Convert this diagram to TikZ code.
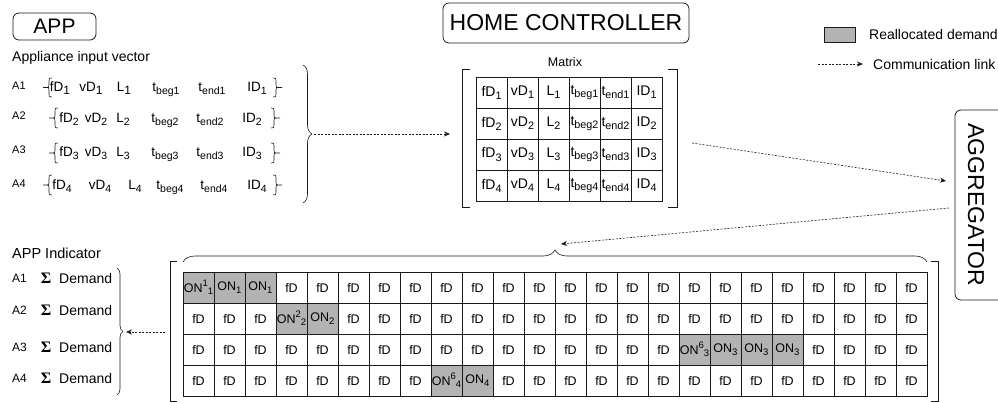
\documentclass[tikz,border=0pt]{standalone}
\usepackage{fontspec}
\setmainfont{Liberation Sans}
\newfontfamily\serifsym{Liberation Serif}
\usetikzlibrary{arrows.meta,decorations.pathreplacing}
\definecolor{realloc}{HTML}{B3B3B3}
\definecolor{ln}{HTML}{1A1A1A}
\newcommand\fsz[1]{\fontsize{#1}{#1}\selectfont}
\def\subsz{9.5}
\newcommand\sbs[1]{\raisebox{-0.42ex}{\fsz{\subsz}#1}}
\newcommand\sps[1]{\raisebox{0.8ex}{\fsz{\subsz}#1}}
\newcommand\lwr[1]{\raisebox{-0.3ex}{\fsz{12}#1}}
\newcommand\sig{{\serifsym\bfseries Σ}}
% small curly braces: body x, top y, bottom y
\newcommand\mylbr[3]{\draw[smb] ({#1+3},#2) .. controls (#1,#2) .. (#1,{#2+3}) -- (#1,{(#2+#3)/2-3}) .. controls (#1,{(#2+#3)/2}) .. ({#1-3},{(#2+#3)/2}) .. controls (#1,{(#2+#3)/2}) .. (#1,{(#2+#3)/2+3}) -- (#1,{#3-3}) .. controls (#1,#3) .. ({#1+3},#3) ({#1-3},{(#2+#3)/2}) -- ({#1-6},{(#2+#3)/2});}
\newcommand\myrbr[3]{\draw[smb] ({#1-3},#2) .. controls (#1,#2) .. (#1,{#2+3}) -- (#1,{(#2+#3)/2-3}) .. controls (#1,{(#2+#3)/2}) .. ({#1+3},{(#2+#3)/2}) .. controls (#1,{(#2+#3)/2}) .. (#1,{(#2+#3)/2+3}) -- (#1,{#3-3}) .. controls (#1,#3) .. ({#1-3},#3) ({#1+3},{(#2+#3)/2}) -- ({#1+6},{(#2+#3)/2});}
\begin{document}
\begin{tikzpicture}[x=1pt,y=-1pt,
  rbox/.style={draw=ln, rounded corners=6pt, line width=0.8pt},
  cell/.style={draw=ln, minimum width=31pt, minimum height=31pt, inner sep=0pt, line width=0.6pt, font=\fsz{12.5}\def\subsz{9.5}},
  mcell/.style={cell, font=\fsz{14}\def\subsz{10.8}},
  gcell/.style={cell, fill=realloc},
  lbl/.style={inner sep=0pt, anchor=west, font=\fsz{14}},
  alab/.style={inner sep=0pt, anchor=west, font=\fsz{11}},
  vec/.style={inner sep=0pt, anchor=base, font=\fsz{13.5}\def\subsz{10.5}},
  link/.style={draw=ln, line width=0.6pt, dash pattern=on 2pt off 1.5pt, -{Stealth[length=6pt,width=5pt]}},
  brc/.style={draw=ln, line width=0.6pt, decorate, decoration={brace, amplitude=#1}},
  brc/.default=6pt,
  smb/.style={draw=ln, line width=0.6pt},
  brk/.style={draw=ln, line width=1pt},
]
\useasboundingbox (0,0) rectangle (998,403);

% ---------- APP ----------
\node[rbox, minimum width=83pt, minimum height=27pt, inner sep=0pt, font=\fsz{21}] (app) at (54.5,26.5) {APP};
\node[lbl] (aiv) at (12,58) {Appliance input vector};

% row labels
\node[alab] (ra1) at (12,86) {A1};
\node[alab] (ra2) at (12,116) {A2};
\node[alab] (ra3) at (12,150) {A3};
\node[alab] (ra4) at (12,184) {A4};

% row 1
\node[vec] (v1a) at (60,92) {fD\lwr{1}};
\node[vec] (v1b) at (91,92) {vD\lwr{1}};
\node[vec] (v1c) at (124,92) {L\lwr{1}};
\node[vec] (v1d) at (166,92) {t\sbs{beg1}};
\node[vec] (v1e) at (212,92) {t\sbs{end1}};
\node[vec] (v1f) at (257,92) {ID\sbs{1}};
% row 2
\node[vec] (v2a) at (69,123) {fD\sbs{2}};
\node[vec] (v2b) at (96,123) {vD\sbs{2}};
\node[vec] (v2c) at (123,123) {L\sbs{2}};
\node[vec] (v2d) at (165,123) {t\sbs{beg2}};
\node[vec] (v2e) at (210,123) {t\sbs{end2}};
\node[vec] (v2f) at (252,123) {ID\sbs{2}};
% row 3
\node[vec] (v3a) at (69,157) {fD\sbs{3}};
\node[vec] (v3b) at (96,157) {vD\sbs{3}};
\node[vec] (v3c) at (123,157) {L\sbs{3}};
\node[vec] (v3d) at (165,157) {t\sbs{beg3}};
\node[vec] (v3e) at (210,157) {t\sbs{end3}};
\node[vec] (v3f) at (252,157) {ID\sbs{3}};
% row 4
\node[vec] (v4a) at (62,190) {fD\sbs{4}};
\node[vec] (v4b) at (100,190) {vD\sbs{4}};
\node[vec] (v4c) at (135,190) {L\sbs{4}};
\node[vec] (v4d) at (170,190) {t\sbs{beg4}};
\node[vec] (v4e) at (214,190) {t\sbs{end4}};
\node[vec] (v4f) at (257,190) {ID\sbs{4}};

% small braces
\mylbr{49}{78}{97}
\myrbr{276}{78}{97}
\mylbr{55}{108}{128}
\myrbr{274}{108}{128}
\mylbr{55}{143}{163}
\myrbr{274}{143}{163}
\mylbr{49}{175}{195}
\myrbr{276}{175}{195}

% big brace of the input vectors
\draw[brc=9pt] (303,65) -- (303,203);
\coordinate (vtip) at (314,134);
\coordinate (min) at (450,134);
\draw[link] (vtip) -- (min);

% ---------- HOME CONTROLLER ----------
\node[rbox, minimum width=246pt, minimum height=40pt, inner sep=0pt, font=\fsz{23}] (hc) at (566,23) {HOME CONTROLLER};
\node[inner sep=0pt, font=\fsz{12.5}] (mlab) at (565,62) {Matrix};

\foreach \r in {1,...,4} {
  \node[mcell] (m\r-1) at (491.5,{61.5+31*\r}) {fD\sbs{\r}};
  \node[mcell] (m\r-2) at (522.5,{61.5+31*\r}) {vD\sbs{\r}};
  \node[mcell] (m\r-3) at (553.5,{61.5+31*\r}) {L\sbs{\r}};
  \node[mcell] (m\r-4) at (584.5,{61.5+31*\r}) {t\sbs{beg\r}};
  \node[mcell] (m\r-5) at (615.5,{61.5+31*\r}) {t\sbs{end\r}};
  \node[mcell] (m\r-6) at (646.5,{61.5+31*\r}) {ID\sbs{\r}};
}
\draw[brk] (470,70) -- (462,70) -- (462,208) -- (470,208);
\draw[brk] (668,70) -- (677,70) -- (677,208) -- (668,208);

% ---------- AGGREGATOR ----------
\node[rbox, minimum width=60pt, minimum height=190pt, inner sep=0pt] (aggbox) at (985,205) {};
\node[rotate=-90, inner sep=0pt, font=\fsz{23}] (agg) at (976,205) {AGGREGATOR};
\coordinate (mout) at (692,143);
\coordinate (ain) at (946,181);
\draw[link] (mout) -- (ain);
\coordinate (aout) at (949,208);
\coordinate (gin) at (561,244);
\draw[link] (aout) -- (gin);

% ---------- legend ----------
\node[draw=ln, fill=realloc, line width=0.6pt, minimum width=31pt, minimum height=15pt, inner sep=0pt] (lgbox) at (839.5,34.5) {};
\node[lbl] (lgtxt) at (869,34.5) {Reallocated demand};
\coordinate (lga) at (818,64);
\coordinate (lgb) at (863,64);
\draw[link] (lga) -- (lgb);
\node[lbl] (lgtxt2) at (873,64) {Communication link};

% ---------- big grid ----------
\node[gcell] (g1-1) at (198.5,287.5) {ON\sps{1}\sbs{1}};
\node[gcell] (g1-2) at (229.5,287.5) {ON\sbs{1}};
\node[gcell] (g1-3) at (260.5,287.5) {ON\sbs{1}};
\foreach \c in {4,...,24} \node[cell] (g1-\c) at ({167.5+31*\c},287.5) {fD};
\foreach \c in {1,2,3} \node[cell] (g2-\c) at ({167.5+31*\c},318.5) {fD};
\node[gcell] (g2-4) at (291.5,318.5) {ON\sps{2}\sbs{2}};
\node[gcell] (g2-5) at (322.5,318.5) {ON\sbs{2}};
\foreach \c in {6,...,24} \node[cell] (g2-\c) at ({167.5+31*\c},318.5) {fD};
\foreach \c in {1,...,16} \node[cell] (g3-\c) at ({167.5+31*\c},349.5) {fD};
\node[gcell] (g3-17) at (694.5,349.5) {ON\sps{6}\sbs{3}};
\node[gcell] (g3-18) at (725.5,349.5) {ON\sbs{3}};
\node[gcell] (g3-19) at (756.5,349.5) {ON\sbs{3}};
\node[gcell] (g3-20) at (787.5,349.5) {ON\sbs{3}};
\foreach \c in {21,...,24} \node[cell] (g3-\c) at ({167.5+31*\c},349.5) {fD};
\foreach \c in {1,...,8} \node[cell] (g4-\c) at ({167.5+31*\c},380.5) {fD};
\node[gcell] (g4-9) at (446.5,380.5) {ON\sps{6}\sbs{4}};
\node[gcell] (g4-10) at (477.5,380.5) {ON\sbs{4}};
\foreach \c in {11,...,24} \node[cell] (g4-\c) at ({167.5+31*\c},380.5) {fD};

\draw[brc=12pt] (183,262) -- (927,262);
\draw[brk] (177,262) -- (170,262) -- (170,401) -- (177,401);
\draw[brk] (931,262) -- (938,262) -- (938,401) -- (931,401);

% ---------- APP Indicator ----------
\node[lbl, font=\fsz{14.5}] (aind) at (12,253) {APP Indicator};
\foreach \i/\y in {1/278,2/310,3/347,4/378} {
  \node[inner sep=0pt, anchor=west, font=\fsz{12}] (ia\i) at (12,\y) {A\i};
  \node[inner sep=0pt, font=\fsz{16}] (is\i) at (46,\y) {\sig};
  \node[lbl] (id\i) at (59,\y) {Demand};
}
\draw[brc=6pt] (117,268) -- (117,395);
\coordinate (gout) at (165,332);
\coordinate (itip) at (126,332);
\draw[link] (gout) -- (itip);
\end{tikzpicture}
\end{document}
